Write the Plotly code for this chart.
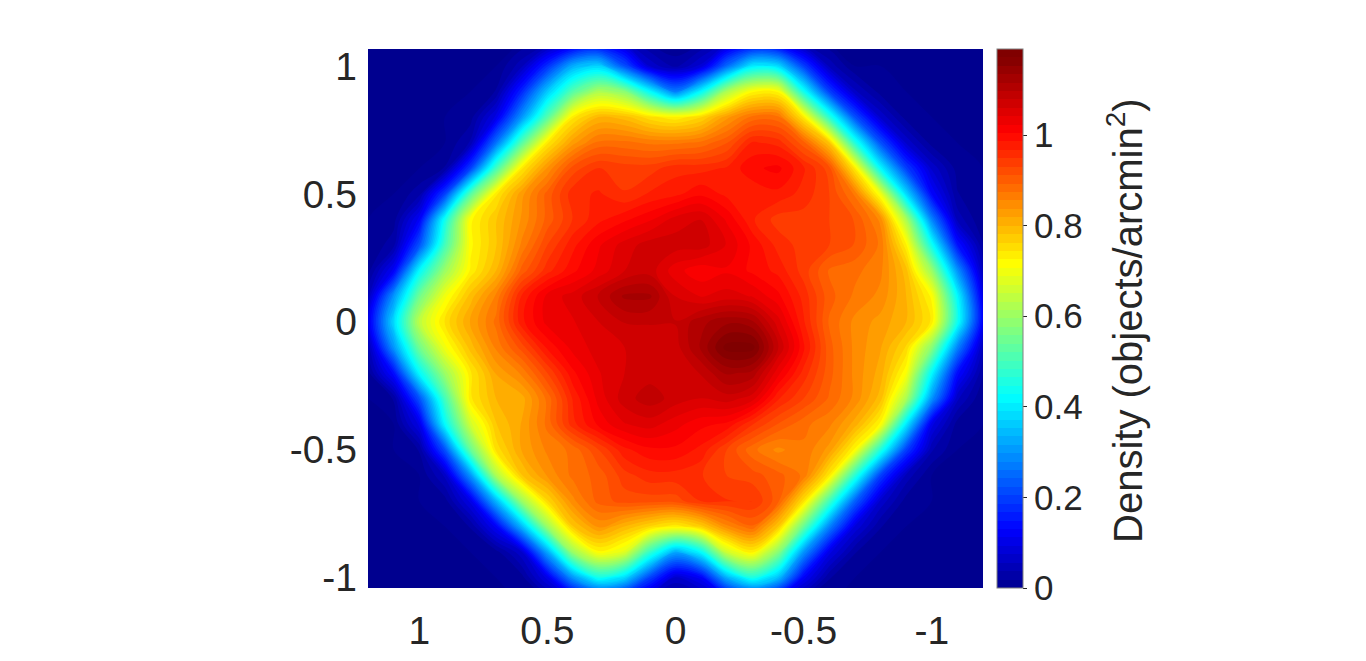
import plotly.graph_objects as go

x_values = [1.2, 1.1, 1.0, 0.9, 0.8, 0.7, 0.6, 0.5, 0.4, 0.3, 0.2, 0.1, 0.0,
            -0.1, -0.2, -0.3, -0.4, -0.5, -0.6, -0.7, -0.8, -0.9, -1.0, -1.1, -1.2]
y_values = [1.1, 1.0, 0.9, 0.8, 0.7, 0.6, 0.5, 0.4, 0.3, 0.2, 0.1, 0.0, -0.1, -0.2,
            -0.3, -0.4, -0.5, -0.6, -0.7, -0.8, -0.9, -1.0, -1.1]

density = [
 [0,0,0,0,0,0,0,.01,.05,.08,.05,.01,0,.01,.04,.08,.06,.01,0,0,0,0,0,0,0],
 [0,0,0,0,0,0,.05,.18,.33,.37,.22,.07,.03,.08,.25,.40,.38,.20,.05,0,0,0,0,0,0],
 [0,0,0,0,0,.02,.17,.36,.52,.62,.58,.42,.27,.42,.62,.72,.72,.44,.20,.06,.01,0,0,0,0],
 [0,0,0,0,.01,.10,.30,.52,.74,.80,.79,.75,.73,.76,.83,.88,.88,.74,.47,.22,.07,.01,0,0,0],
 [0,0,0,0,.04,.26,.52,.74,.83,.88,.88,.87,.87,.88,.91,.97,.96,.90,.78,.46,.22,.07,.01,0,0],
 [0,0,0,.02,.20,.50,.74,.84,.92,.95,.94,.94,.96,.96,.97,1.0,1.01,.97,.92,.74,.42,.20,.07,.01,0],
 [0,0,.03,.20,.52,.74,.83,.90,.96,.97,.95,.97,.98,1.0,.98,.97,.98,.96,.93,.87,.70,.38,.13,.02,0],
 [0,.01,.12,.44,.72,.78,.84,.90,.95,.98,1.0,1.02,1.05,1.06,1.02,.97,.94,.94,.93,.91,.85,.62,.28,.05,0],
 [0,.03,.22,.50,.72,.78,.86,.93,.98,1.02,1.05,1.07,1.07,1.07,1.04,1.0,.96,.94,.93,.91,.87,.73,.44,.15,.02],
 [.01,.12,.42,.60,.73,.80,.90,.96,1.0,1.03,1.06,1.07,1.03,1.01,1.02,1.0,.98,.94,.89,.88,.86,.79,.60,.30,.05],
 [.05,.30,.55,.70,.79,.86,.97,1.03,1.05,1.08,1.12,1.12,1.06,1.04,1.05,1.04,1.01,.96,.90,.87,.85,.80,.72,.42,.10],
 [.10,.38,.64,.75,.82,.88,.98,1.03,1.04,1.06,1.08,1.08,1.08,1.11,1.13,1.12,1.05,.97,.89,.85,.83,.80,.74,.44,.12],
 [.04,.30,.55,.70,.79,.86,.92,.99,1.03,1.05,1.06,1.07,1.07,1.12,1.18,1.18,1.08,.99,.90,.85,.82,.76,.58,.28,.05],
 [.01,.14,.42,.60,.74,.82,.86,.93,1.0,1.04,1.06,1.07,1.07,1.08,1.12,1.11,1.03,.96,.90,.85,.81,.71,.42,.14,.02],
 [0,.02,.22,.50,.74,.80,.81,.88,.97,1.03,1.07,1.09,1.07,1.06,1.07,1.05,.97,.93,.89,.85,.79,.62,.30,.06,0],
 [0,0,.10,.42,.66,.78,.82,.88,.96,1.01,1.04,1.05,1.03,1.01,1.0,.95,.91,.88,.86,.81,.72,.40,.10,.01,0],
 [0,0,.02,.22,.54,.75,.82,.86,.88,.93,.98,1.0,1.0,.98,.93,.88,.85,.87,.83,.72,.46,.20,.04,0,0],
 [0,0,0,.06,.30,.62,.78,.84,.88,.90,.94,.96,.96,.95,.93,.92,.90,.87,.74,.47,.20,.05,0,0,0],
 [0,0,0,.01,.10,.34,.60,.76,.85,.90,.92,.92,.92,.95,.95,.95,.90,.75,.50,.24,.07,.01,0,0,0],
 [0,0,0,0,.02,.12,.34,.60,.78,.84,.80,.76,.73,.77,.85,.89,.78,.54,.28,.09,.02,0,0,0,0],
 [0,0,0,0,0,.01,.07,.32,.60,.72,.68,.48,.32,.42,.66,.73,.58,.30,.10,.02,0,0,0,0,0],
 [0,0,0,0,0,0,.01,.10,.30,.44,.38,.20,.07,.12,.33,.45,.35,.12,.02,0,0,0,0,0,0],
 [0,0,0,0,0,0,0,0,.03,.08,.06,.01,0,.01,.04,.08,.04,0,0,0,0,0,0,0,0],
]

x_ticks = [1, 0.5, 0, -0.5, -1]
x_labels = ["1", "0.5", "0", "-0.5", "-1"]
y_ticks = [1, 0.5, 0, -0.5, -1]
y_labels = ["1", "0.5", "0", "-0.5", "-1"]
bar_ticks = [0, 0.2, 0.4, 0.6, 0.8, 1]
bar_labels = ["0", "0.2", "0.4", "0.6", "0.8", "1"]
bar_title = "Density (objects/arcmin<sup>2</sup>)"

jet = [[0, "rgb(0,0,143)"], [0.11, "rgb(0,0,255)"], [0.36, "rgb(0,255,255)"],
       [0.61, "rgb(255,255,0)"], [0.86, "rgb(255,0,0)"], [1, "rgb(128,0,0)"]]

W, H = 1366, 661
TEXT = "#262626"
FONT = "Liberation Sans, Arial, sans-serif"
L, R, T, B = 368, 983, 49, 588

fig = go.Figure(go.Contour(
    x=x_values, y=y_values, z=density,
    colorscale=jet, zmin=0, zmax=1.19,
    contours=dict(coloring="fill", start=0, end=1.19, size=0.0186, showlines=False),
    line=dict(width=0, smoothing=1.0),
    colorbar=dict(
        thickness=26, thicknessmode="pixels",
        len=(B - T) / H, lenmode="fraction",
        x=997 / W, xanchor="left", xref="paper",
        y=1 - B / H, yanchor="bottom", yref="paper",
        xpad=0, ypad=0,
        tickvals=bar_ticks, ticktext=bar_labels,
        ticks="outside", ticklen=4, tickcolor=TEXT, tickwidth=1,
        tickfont=dict(family=FONT, size=35, color=TEXT),
        outlinewidth=1, outlinecolor="#808080",
    ),
))

fig.add_annotation(
    text=bar_title, textangle=-90, showarrow=False,
    xref="paper", yref="paper", x=1125 / W, y=1 - 321 / H,
    xanchor="center", yanchor="middle",
    font=dict(family=FONT, size=40, color=TEXT),
)

fig.update_layout(
    width=W, height=H, margin=dict(l=0, r=0, t=0, b=0, autoexpand=False),
    paper_bgcolor="white", plot_bgcolor="white", showlegend=False,
    xaxis=dict(domain=[L / W, R / W], range=[1.2, -1.2], tickvals=x_ticks, ticktext=x_labels,
               tickfont=dict(family=FONT, size=39, color=TEXT), showgrid=False, zeroline=False,
               ticks="", ticklabelstandoff=16, showline=False),
    yaxis=dict(domain=[1 - B / H, 1 - T / H], range=[-1.04, 1.066], tickvals=y_ticks, ticktext=y_labels,
               tickfont=dict(family=FONT, size=39, color=TEXT), showgrid=False, zeroline=False,
               ticks="", ticklabelstandoff=10, showline=False),
)

fig.write_html("out.html", config=dict(displayModeBar=False),
               post_script="document.body.style.margin='0';document.documentElement.style.overflow='hidden';")
